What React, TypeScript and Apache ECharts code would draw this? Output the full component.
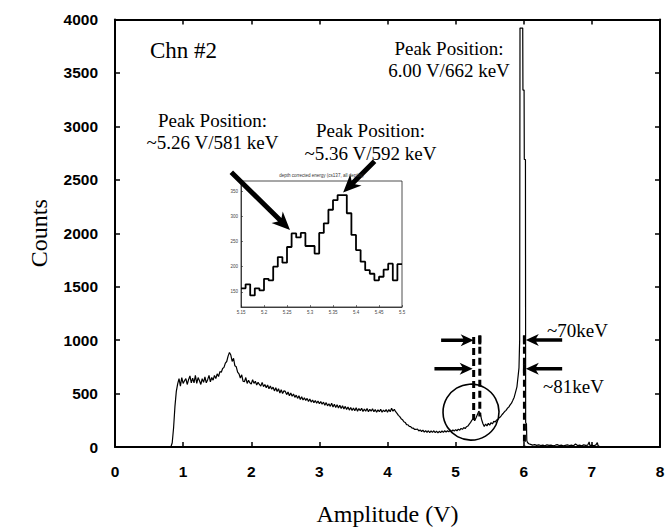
import { useEffect, useRef } from "react";
import * as echarts from "echarts";

// ---------- data ----------
const xTickValues = [0, 1, 2, 3, 4, 5, 6, 7, 8];
const yTickValues = [0, 500, 1000, 1500, 2000, 2500, 3000, 3500, 4000];

// Spectrum: [amplitude V, counts]
const comptonRegion: [number, number][] = [
  [0.80, 0], [0.82, 0], [0.84, 40], [0.86, 180], [0.88, 380], [0.90, 520], [0.92, 590], [0.94, 640],
  [0.96, 570], [0.98, 650], [1.00, 595], [1.02, 620], [1.04, 640], [1.06, 585], [1.08, 630], [1.10, 665],
  [1.12, 600], [1.14, 645], [1.16, 600], [1.18, 670], [1.20, 595], [1.22, 650], [1.24, 620], [1.26, 585],
  [1.28, 640], [1.30, 605], [1.32, 655], [1.34, 600], [1.36, 630], [1.38, 670], [1.40, 610], [1.42, 650],
  [1.44, 625], [1.46, 670], [1.48, 640], [1.50, 685], [1.52, 660], [1.54, 705], [1.56, 700], [1.58, 735],
  [1.60, 745], [1.62, 785], [1.64, 800], [1.66, 850], [1.68, 885], [1.70, 860], [1.72, 800], [1.74, 830],
  [1.76, 760], [1.78, 750], [1.80, 700], [1.82, 685], [1.84, 645], [1.86, 675], [1.88, 615], [1.90, 610],
  [1.92, 650], [1.94, 595], [1.96, 625], [1.98, 600], [2.00, 590],
];

const continuumRegion: [number, number][] = [
  [2.02, 630], [2.04, 595], [2.06, 615], [2.08, 580], [2.10, 605], [2.12, 585], [2.14, 570], [2.16, 605],
  [2.18, 565], [2.20, 585], [2.22, 555], [2.24, 580], [2.26, 545], [2.28, 570], [2.30, 540], [2.32, 560],
  [2.34, 525], [2.36, 555], [2.38, 520], [2.40, 545], [2.42, 505], [2.44, 535], [2.46, 500], [2.48, 525],
  [2.50, 520], [2.52, 490], [2.54, 515], [2.56, 480], [2.58, 505], [2.60, 475], [2.62, 495], [2.64, 465],
  [2.66, 485], [2.68, 455], [2.70, 480], [2.72, 445], [2.74, 470], [2.76, 440], [2.78, 460], [2.80, 435],
  [2.82, 455], [2.84, 425], [2.86, 450], [2.88, 420], [2.90, 440], [2.92, 415], [2.94, 435], [2.96, 410],
  [2.98, 430], [3.00, 405], [3.02, 425], [3.04, 400], [3.06, 420], [3.08, 390], [3.10, 415], [3.12, 385],
  [3.14, 405], [3.16, 380], [3.18, 410], [3.20, 375], [3.22, 400], [3.24, 370], [3.26, 395], [3.28, 365],
  [3.30, 390], [3.32, 360], [3.34, 385], [3.36, 355], [3.38, 380], [3.40, 352], [3.42, 375], [3.44, 345],
  [3.46, 370], [3.48, 342], [3.50, 365], [3.52, 340], [3.54, 368], [3.56, 335], [3.58, 360], [3.60, 340],
  [3.62, 363], [3.64, 332], [3.66, 355], [3.68, 335], [3.70, 360], [3.72, 330], [3.74, 352], [3.76, 335],
  [3.78, 357], [3.80, 330], [3.82, 350], [3.84, 325], [3.86, 347], [3.88, 330], [3.90, 352], [3.92, 325],
  [3.94, 345], [3.96, 330], [3.98, 350], [4.00, 325], [4.02, 350], [4.04, 330], [4.06, 362], [4.08, 335],
  [4.10, 352],
];

const valleyRegion: [number, number][] = [
  [4.12, 330], [4.14, 315], [4.16, 296], [4.18, 284], [4.20, 265], [4.22, 256], [4.24, 236], [4.26, 230],
  [4.28, 210], [4.30, 208], [4.32, 192], [4.34, 190], [4.36, 176], [4.38, 176], [4.40, 164], [4.42, 164],
  [4.44, 168], [4.46, 150], [4.48, 160], [4.50, 145], [4.52, 158], [4.54, 140], [4.56, 154], [4.58, 137],
  [4.60, 152], [4.62, 135], [4.64, 150], [4.66, 137], [4.68, 152], [4.70, 135], [4.72, 148], [4.74, 132],
  [4.76, 147], [4.78, 135], [4.80, 150], [4.82, 137], [4.84, 152], [4.86, 139], [4.88, 152], [4.90, 142],
  [4.92, 157], [4.94, 145], [4.96, 160], [4.98, 149], [5.00, 162], [5.02, 152], [5.04, 167], [5.06, 157],
  [5.08, 174], [5.10, 165], [5.12, 182], [5.14, 172], [5.16, 190], [5.18, 196], [5.20, 214], [5.22, 230],
  [5.24, 252], [5.26, 265], [5.28, 246], [5.30, 274], [5.32, 305], [5.34, 335], [5.36, 318], [5.38, 260],
  [5.40, 220], [5.42, 192], [5.44, 215], [5.46, 198], [5.48, 221], [5.50, 204], [5.52, 228], [5.54, 216],
  [5.56, 240], [5.58, 233], [5.60, 252], [5.62, 256], [5.64, 274], [5.66, 283], [5.68, 302], [5.70, 316],
  [5.72, 332], [5.74, 343], [5.76, 362], [5.78, 373], [5.80, 394], [5.82, 410], [5.84, 437], [5.86, 466],
  [5.88, 514], [5.90, 563], [5.91, 622], [5.92, 680], [5.93, 740],
];

const photopeak: [number, number][] = [
  [5.94, 1000], [5.945, 3920], [5.985, 3920], [5.988, 3340], [6.005, 3340], [6.008, 2690], [6.025, 2690],
  [6.028, 230], [6.04, 215], [6.045, 60], [6.055, 42], [6.075, 30],
];

const tailRegion: [number, number][] = [
  [6.10, 25], [6.13, 18], [6.16, 22], [6.19, 15], [6.22, 20], [6.25, 14], [6.28, 18], [6.31, 12],
  [6.34, 20], [6.37, 15], [6.40, 18], [6.43, 12], [6.46, 16], [6.49, 22], [6.52, 14], [6.55, 18],
  [6.58, 12], [6.61, 16], [6.64, 20], [6.67, 14], [6.70, 18], [6.73, 12], [6.76, 28], [6.79, 14],
  [6.82, 18], [6.85, 12], [6.88, 20], [6.91, 15], [6.94, 18], [6.96, 48], [6.97, 14], [7.00, 18],
  [7.03, 12], [7.06, 20], [7.08, 42], [7.09, 14], [7.12, 0],
];

// Inset histogram (0.01 V bins)
const insetBinStarts = [
  5.15, 5.16, 5.17, 5.18, 5.19, 5.2, 5.21, 5.22, 5.23, 5.24, 5.25, 5.26, 5.27, 5.28, 5.29, 5.3, 5.31, 5.32,
  5.33, 5.34, 5.35, 5.36, 5.37, 5.38, 5.39, 5.4, 5.41, 5.42, 5.43, 5.44, 5.45, 5.46, 5.47, 5.48, 5.49,
];
const insetCounts = [
  157, 165, 143, 157, 153, 176, 173, 200, 219, 208, 239, 266, 258, 267, 241, 241, 226, 267, 286, 313,
  332, 342, 342, 306, 263, 233, 210, 193, 186, 173, 180, 194, 206, 173, 205,
];
const insetXTicks = [5.15, 5.2, 5.25, 5.3, 5.35, 5.4, 5.45, 5.5];
const insetYTicks = [150, 200, 250, 300, 350];

// ---------- helpers ----------
type P = [number, number];
function arrowPoints(tail: P, tip: P, shaft: number, headLen: number, headW: number): number[][] {
  const dx = tip[0] - tail[0];
  const dy = tip[1] - tail[1];
  const L = Math.hypot(dx, dy);
  const ux = dx / L, uy = dy / L;
  const nx = -uy, ny = ux;
  const bx = tip[0] - ux * headLen, by = tip[1] - uy * headLen;
  const nbx = tip[0] - ux * headLen * 0.8, nby = tip[1] - uy * headLen * 0.8;
  return [
    [tail[0] + nx * shaft / 2, tail[1] + ny * shaft / 2],
    [nbx + nx * shaft / 2, nby + ny * shaft / 2],
    [bx + nx * headW / 2, by + ny * headW / 2],
    [tip[0], tip[1]],
    [bx - nx * headW / 2, by - ny * headW / 2],
    [nbx - nx * shaft / 2, nby - ny * shaft / 2],
    [tail[0] - nx * shaft / 2, tail[1] - ny * shaft / 2],
  ];
}

const serif = "'Liberation Serif', 'Times New Roman', serif";
const sansBold = "'Liberation Sans', Arial, sans-serif";

export default function App() {
  const ref = useRef<HTMLDivElement>(null);

  useEffect(() => {
    if (!ref.current) return;
    const chart = echarts.init(ref.current, undefined, { renderer: "svg" });
    const spectrum = [...comptonRegion, ...continuumRegion, ...valleyRegion, ...photopeak, ...tailRegion];
    const insetData = insetBinStarts.map((x, i) => [x, insetCounts[i]]);
    insetData.push([5.5, insetCounts[insetCounts.length - 1]]);

    const axisLabelMain = {
      color: "#000",
      fontFamily: sansBold,
      fontWeight: "bold" as const,
      fontSize: 15.5,
      formatter: (v: number) => String(v),
    };
    const tickMain = { show: true, inside: true, length: 5, lineStyle: { color: "#000", width: 1.5 } };
    const lineMain = { show: true, onZero: false, lineStyle: { color: "#000", width: 2 } };

    chart.setOption({
      animation: false,
      backgroundColor: "#fff",
      grid: [
        { left: 115, top: 19.5, right: 7, bottom: 84, outerBoundsMode: "none" },
        {
          left: 241, top: 181, width: 161, height: 126, show: true,
          backgroundColor: "#fff", borderColor: "#222", borderWidth: 0.8, outerBoundsMode: "none",
        },
      ],
      xAxis: [
        {
          type: "value", gridIndex: 0, position: "bottom", min: xTickValues[0], max: xTickValues[xTickValues.length - 1], interval: 1,
          axisLine: lineMain, axisTick: tickMain, splitLine: { show: false },
          axisLabel: { ...axisLabelMain, margin: 16 },
          name: "Amplitude (V)", nameLocation: "middle", nameGap: 55,
          nameTextStyle: { fontFamily: serif, fontSize: 24, color: "#000" },
        },
        {
          type: "value", gridIndex: 0, position: "top", min: xTickValues[0], max: xTickValues[xTickValues.length - 1], interval: 1,
          axisLine: lineMain, axisTick: tickMain, splitLine: { show: false },
          axisLabel: { show: false },
        },
        {
          type: "value", gridIndex: 1, min: 5.15, max: 5.5,
          axisLine: { show: true, lineStyle: { color: "#222", width: 0.8 } },
          axisTick: { show: true, inside: true, length: 2, customValues: insetXTicks, lineStyle: { color: "#222", width: 0.6 } },
          axisLabel: { customValues: insetXTicks, fontSize: 4.5, color: "#444", margin: 3, formatter: (v: number) => String(v) },
          splitLine: { show: false },
        },
      ],
      yAxis: [
        {
          type: "value", gridIndex: 0, position: "left", min: yTickValues[0], max: yTickValues[yTickValues.length - 1], interval: 500,
          axisLine: lineMain, axisTick: tickMain, splitLine: { show: false },
          axisLabel: { ...axisLabelMain, margin: 17 },
          name: "Counts", nameLocation: "middle", nameGap: 64, nameRotate: 90,
          nameTextStyle: { fontFamily: serif, fontSize: 24, color: "#000" },
        },
        {
          type: "value", gridIndex: 0, position: "right", min: yTickValues[0], max: yTickValues[yTickValues.length - 1], interval: 500,
          axisLine: lineMain, axisTick: tickMain, splitLine: { show: false },
          axisLabel: { show: false },
        },
        {
          type: "value", gridIndex: 1, min: 120, max: 370,
          axisLine: { show: true, lineStyle: { color: "#222", width: 0.8 } },
          axisTick: { show: true, inside: true, length: 2, customValues: insetYTicks, lineStyle: { color: "#222", width: 0.6 } },
          axisLabel: { customValues: insetYTicks, fontSize: 4.5, color: "#444", margin: 3 },
          splitLine: { show: false },
        },
      ],
      series: [
        {
          type: "line", xAxisIndex: 0, yAxisIndex: 0, data: spectrum, showSymbol: false,
          lineStyle: { color: "#000", width: 1.2 }, clip: true, silent: true,
        },
        {
          type: "line", xAxisIndex: 2, yAxisIndex: 2, data: insetData, step: "end", showSymbol: false,
          lineStyle: { color: "#000", width: 1.8 }, silent: true,
        },
      ],
    });

    const m = (v: number, c: number) => chart.convertToPixel({ xAxisIndex: 0, yAxisIndex: 0 }, [v, c]) as P;
    const ins = (v: number, c: number) => chart.convertToPixel({ xAxisIndex: 2, yAxisIndex: 2 }, [v, c]) as P;

    const dashed = (v: number, c0: number, c1: number) => {
      const a = m(v, c0), b = m(v, c1);
      return {
        type: "line", shape: { x1: a[0], y1: a[1], x2: b[0], y2: b[1] },
        style: { stroke: "#000", lineWidth: 3, lineDash: [7, 4] }, z: 100,
      };
    };
    const solid = (v: number, c0: number, c1: number) => {
      const a = m(v, c0), b = m(v, c1);
      return {
        type: "line", shape: { x1: a[0], y1: a[1], x2: b[0], y2: b[1] },
        style: { stroke: "#000", lineWidth: 3 }, z: 100,
      };
    };
    const arrow = (tail: P, tip: P, shaft: number, hl: number, hw: number) => ({
      type: "polygon", shape: { points: arrowPoints(tail, tip, shaft, hl, hw) },
      style: { fill: "#000" }, z: 101,
    });
    const text = (t: string, x: number, y: number, size: number, align: string) => ({
      type: "text", x, y, z: 102,
      style: { text: t, fontFamily: serif, fontSize: size, fill: "#000", align, verticalAlign: "middle" },
    });

    const circleCenter = m(5.226, 331);

    chart.setOption({
      graphic: [
        dashed(5.265, 1030, 255),
        dashed(5.355, 1040, 285),
        dashed(6.01, 1040, 0),
        solid(5.355, 1045, 960),
        solid(6.01, 1045, 960),
        solid(6.01, 775, 690),
        arrow(m(4.787, 998), m(5.265, 998), 3.5, 13, 12),
        arrow(m(4.689, 731), m(5.25, 731), 3.5, 13, 12),
        arrow(m(6.564, 1002), m(6.03, 1002), 3.5, 13, 12),
        arrow(m(6.564, 731), m(6.03, 731), 3.5, 13, 12),
        {
          type: "circle", shape: { cx: circleCenter[0], cy: circleCenter[1], r: 28 },
          style: { fill: "none", stroke: "#000", lineWidth: 1.6 }, z: 100,
        },
        arrow(m(1.707, 2570), ins(5.2565, 273), 5, 18, 16),
        arrow(m(3.81, 2673), ins(5.372, 347), 5, 18, 16),
        text("Chn #2", 150, 50, 23, "left"),
        text("Peak Position:", 212.5, 120, 19, "center"),
        text("~5.26 V/581 keV", 212.5, 142, 19, "center"),
        text("Peak Position:", 370.5, 130, 19, "center"),
        text("~5.36 V/592 keV", 370.5, 153, 19, "center"),
        text("Peak Position:", 449, 48, 19, "center"),
        text("6.00 V/662 keV", 449, 70, 19, "center"),
        text("~70keV", 547, 330, 19, "left"),
        text("~81keV", 543, 386, 19, "left"),
        {
          type: "text", x: 321.5, y: 175.5, z: 102,
          style: {
            text: "depth corrected energy (cs137, all depths)", fontFamily: "Liberation Sans, sans-serif",
            fontSize: 4.5, fill: "#333", align: "center", verticalAlign: "middle",
          },
        },
      ],
    });

    return () => chart.dispose();
  }, []);

  return <div ref={ref} style={{ width: 667, height: 531, position: "absolute", left: 0, top: 0 }} />;
}
